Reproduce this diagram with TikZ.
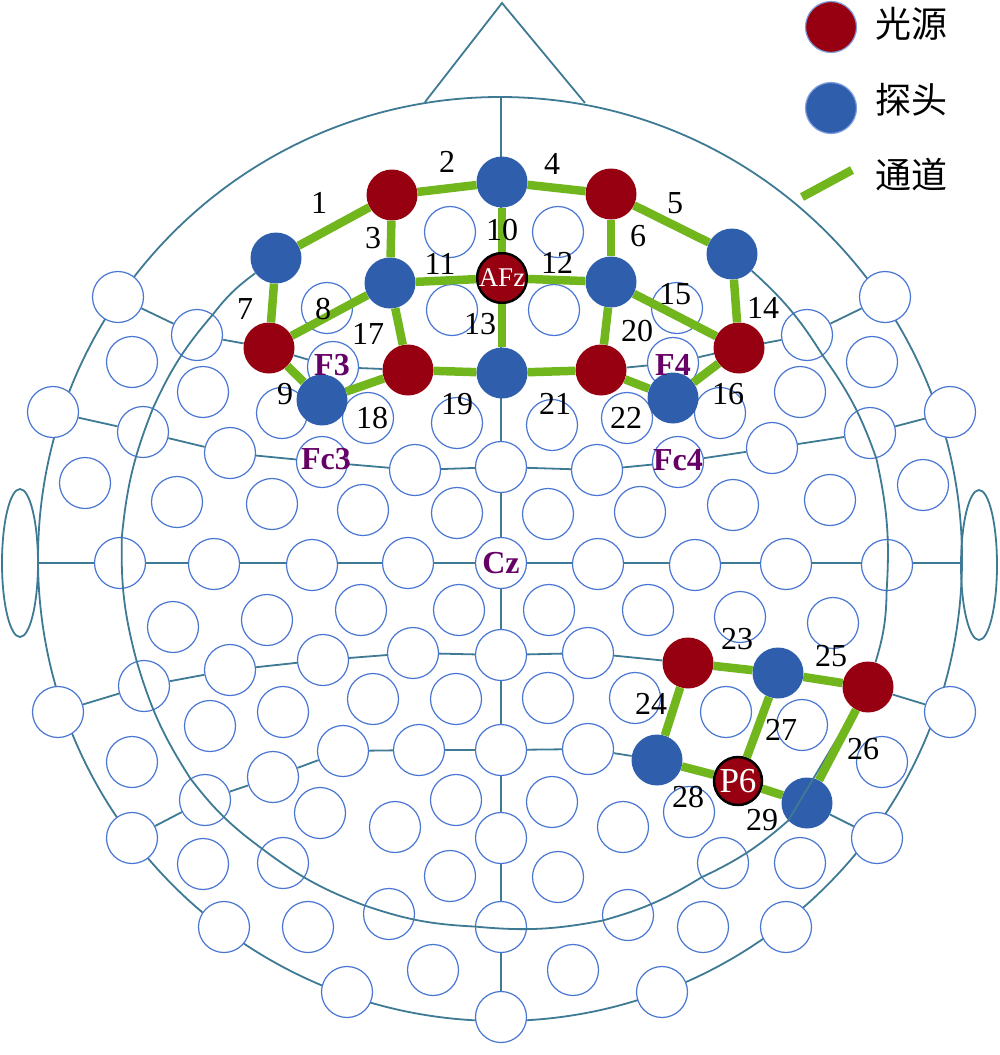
\documentclass[tikz,border=0pt]{standalone}
\usepackage{fontspec}
\setmainfont{Liberation Serif}
\newfontfamily\cjkfont{Noto Sans CJK SC}
\definecolor{gridline}{RGB}{62,122,148}
\definecolor{ringblue}{RGB}{72,118,210}
\definecolor{srcred}{RGB}{150,0,16}
\definecolor{detblue}{RGB}{47,95,172}
\definecolor{chgreen}{RGB}{114,182,30}
\definecolor{sitepurple}{RGB}{102,0,102}
\tikzset{
  headline/.style={draw=gridline, line width=1.8pt},
  elec/.style={circle, draw=ringblue, line width=1.2pt, fill=white, minimum size=51pt, inner sep=0pt},
  src/.style={circle, fill=srcred, minimum size=51pt, inner sep=0pt},
  det/.style={circle, fill=detblue, minimum size=51pt, inner sep=0pt},
  marked/.style={circle, fill=srcred, draw=black, line width=2.5pt, minimum size=48pt, inner sep=0pt, text=white},
  chan/.style={draw=chgreen, line width=8.5pt},
  num/.style={font=\fontsize{32}{34}\selectfont, inner sep=0pt},
  site/.style={font=\bfseries\fontsize{32}{34}\selectfont, text=sitepurple, inner sep=0pt},
  keytext/.style={font=\cjkfont\fontsize{36}{38}\selectfont, anchor=west, inner sep=0pt},
  ringseg/.style={bend right=8}
}

\begin{document}
\begin{tikzpicture}[x=1pt,y=-1pt]
\useasboundingbox (0,0) rectangle (1000,1055);
% head, ears, nose
\draw[headline] (500,559) circle[radius=462];
\draw[headline] (20,563) ellipse[x radius=18,y radius=74];
\draw[headline] (979,565) ellipse[x radius=18,y radius=75];
\draw[headline] (425,102) -- (502,3) -- (585,103);
\draw[headline] (501,97) -- (501,1017);
\draw[headline] (38,563) -- (962,563);

% empty sites
\foreach \n/\x/\y in {AFp1h/450/232, AFp2h/558/232,
  AFF5h/327/308, AFF1h/452/310, AFF2h/554/310, AFF6h/677/308,
  F9/118/297, F7/197/335, F3/333/367, F4/673/363, F8/807/335, F10/885/297,
  FFT9h/132/362, FFT7h/203/392, FFC5h/282/413, FFC3h/368/418, FFC1h/457/423,
  FFC2h/552/425, FFC4h/627/418, FFC6h/720/413, FFT8h/800/392, FFT10h/872/362,
  FT9/53/412, FT7/143/432, FC5/230/453, FC3/322/462, FC1/415/470, FCz/501/467,
  FC2/597/470, FC4/678/462, FC6/772/448, FT8/870/433, FT10/950/412,
  FTT9h/85/483, FTT7h/177/502, FCC5h/272/504, FCC3h/363/510, FCC1h/457/513,
  FCC2h/548/514, FCC4h/640/512, FCC6h/733/505, FTT8h/830/500, FTT10h/923/485,
  T7/120/563, C5/214/564, C3/312/565, C1/408/563, Cz/501/563,
  C2/598/564, C4/695/565, C6/786/564, T8/887/565,
  TTP7h/173/627, CCP5h/267/620, CCP3h/361/610, CCP1h/459/610,
  CCP2h/549/610, CCP4h/648/610, CCP6h/740/617, TTP8h/833/623,
  TP9/58/712, TP7/144/686, CP5/230/670, CP3/323/660, CP1/413/653, CPz/501/655,
  CP2/588/653, TP10/950/712,
  TPP9h/132/762, TPP7h/210/726, CPP5h/283/712, CPP3h/373/699, CPP1h/456/699,
  CPP2h/548/698, CPP4h/635/698, CPP6h/726/712, TPP8h/802/725, TPP10h/882/762,
  P9/132/838, P7/205/800, P5/273/777, P3/343/751, P1/419/750, Pz/501/750,
  P2/588/749, P10/877/838,
  PPO5h/320/813, PPO3h/395/827, PPO1h/456/800, PPO2h/552/802, PPO4h/623/827, PPO6h/689/812,
  PPO9h/203/864, PO7/283/863, POO1/450/876, POz/501/838, POO2/558/877, PO8/723/863, PPO10h/800/863,
  PO9/224/927, POO9h/308/927, O1/389/914, Oz/501/927, O2/628/915, POO10h/703/927, PO10/786/927,
  OI1h/433/970, O9/347/992, Iz/501/1017, OI2h/573/970, O10/662/992}
  \node[elec] (\n) at (\x,\y) {};

% sources and detectors
\foreach \n/\x/\y in {Fp1/392/195, Fp2/611/194, F5/269/348, F1/408/370,
  F2/601/370, F6/739/348, CP4/688/663, TP8/868/687}
  \node[src] (\n) at (\x,\y) {};
\foreach \n/\x/\y in {Fpz/502/182, AF7/276/258, AF3/390/283, AF4/611/282,
  AF8/732/254, Fz/502/373, dF3/322/400, dF4/673/398, CP6/778/673, P4/657/760, P8/807/803}
  \node[det] (\n) at (\x,\y) {};
\node[marked, font=\fontsize{27}{28}\selectfont] (AFz) at (502,278) {AFz};
\node[marked, font=\fontsize{35}{36}\selectfont] (P6) at (738,781) {P6};

% inner ring and rows
\draw[headline] (AF7) to[ringseg] (F7) to[ringseg] (FT7) to[ringseg] (T7) to[ringseg] (TP7)
  to[ringseg] (P7) to[ringseg] (PO7) to[ringseg] (O1) to[ringseg] (Oz) to[ringseg] (O2)
  to[ringseg] (PO8) to[ringseg] (P8) -- (TP8) to[ringseg] (T8) to[ringseg] (FT8)
  to[ringseg] (F8) to[ringseg] (AF8);
\draw[headline] (FT9) -- (FT7) -- (FC5) -- (FC3) -- (FC1) -- (FCz) -- (FC2) -- (FC4) -- (FC6) -- (FT8) -- (FT10);
\draw[headline] (F9) -- (F7) -- (F5) -- (F3) -- (F1) -- (Fz) -- (F2) -- (F4) -- (F6) -- (F8) -- (F10);
\draw[headline] (TP9) -- (TP7) -- (CP5) -- (CP3) -- (CP1) -- (CPz) -- (CP2) -- (CP4) -- (CP6) -- (TP8) -- (TP10);
\draw[headline] (P9) -- (P7) -- (P5) -- (P3) -- (P1) -- (Pz) -- (P2) -- (P4) -- (P6) -- (P8) -- (P10);

% channels
\foreach \a/\b in {AF7/Fp1, Fp1/Fpz, Fp1/AF3, Fpz/Fp2, Fp2/AF8, Fp2/AF4, AF7/F5, F5/AF3,
  F5/dF3, Fpz/AFz, AF3/AFz, AFz/AF4, AFz/Fz, AF8/F6, AF4/F6, F6/dF4, AF3/F1, dF3/F1,
  F1/Fz, AF4/F2, Fz/F2, F2/dF4, CP4/CP6, CP4/P4, CP6/TP8, TP8/P8, CP6/P6, P4/P6, P6/P8}
  \draw[chan] (\a) -- (\b);

% channel numbers
\foreach \i/\x/\y in {1/319/203, 2/447/162, 3/373/238, 4/552/164, 5/675/203, 6/638/236,
  7/245/309, 8/323/309, 9/285/394, 10/502/230, 11/440/264, 12/557/263, 13/480/324,
  14/763/308, 15/675/294, 16/728/394, 17/368/334, 18/372/418, 19/457/404, 20/637/331,
  21/555/404, 22/626/418, 23/737/639, 24/651/704, 25/831/656, 26/863/749, 27/781/730,
  28/688/797, 29/762/820}
  \node[num] (n\i) at (\x,\y) {\i};

% site names
\node[site] (F3t) at (332,365) {F3};
\node[site] (Fc3t) at (326,459) {Fc3};
\node[site] (F4t) at (673,365) {F4};
\node[site] (Fc4t) at (678,460) {Fc4};
\node[site] (Czt) at (Cz) {Cz};

% key
\node[src, draw=ringblue!70, line width=1.2pt] (keysrc) at (831,27) {};
\node[det, draw=ringblue!70, line width=1.2pt] (keydet) at (831,108) {};
\coordinate (keya) at (802,197);
\coordinate (keyb) at (852,170);
\draw[chan] (keya) -- (keyb);
\node[keytext] (keysrctxt) at (875,24) {光源};
\node[keytext] (keydettxt) at (875,100) {探头};
\node[keytext] (keychtxt) at (875,175) {通道};
\end{tikzpicture}
\end{document}
